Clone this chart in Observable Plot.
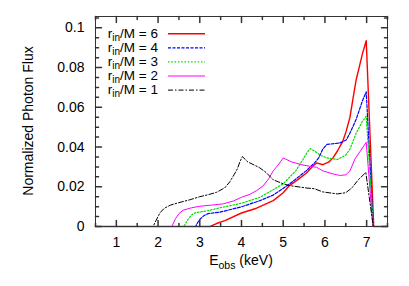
<!DOCTYPE html>
<html><head><meta charset="utf-8">
<script src="https://cdn.jsdelivr.net/npm/d3@7"></script>
<script src="https://cdn.jsdelivr.net/npm/@observablehq/plot@0.6"></script>
<style>body{margin:0;background:#fff}</style>
</head><body><div id="chart"></div>
<script>
// r_in/M values (legend order)
const radii = [6, 4, 3, 2, 1];

// Energy (keV) and normalized photon flux
const energy6 = [0.5, 3.25, 3.4, 3.6, 4.0, 4.36, 4.76, 5.0, 5.15, 5.35, 5.55, 5.72, 5.8, 5.95, 6.1, 6.2, 6.3, 6.43, 6.51, 6.6, 6.67, 6.75, 6.82, 6.9, 6.99, 7.17, 7.5];
const flux6   = [0, 0, 0.0015, 0.003, 0.0068, 0.0092, 0.013, 0.017, 0.0206, 0.0236, 0.0268, 0.0306, 0.032, 0.0311, 0.0325, 0.0348, 0.038, 0.043, 0.048, 0.055, 0.064, 0.074, 0.080, 0.087, 0.0935, 0, 0];

const energy4 = [0.5, 2.9, 2.95, 3.0, 3.1, 3.2, 3.48, 4.0, 4.44, 4.76, 5.15, 5.55, 5.75, 5.85, 5.95, 6.05, 6.35, 6.51, 6.6, 6.75, 6.9, 6.99, 7.16, 7.5];
const flux4   = [0, 0, 0.002, 0.0035, 0.0055, 0.0065, 0.0072, 0.0099, 0.013, 0.0158, 0.0214, 0.028, 0.032, 0.0345, 0.039, 0.0413, 0.042, 0.0435, 0.047, 0.054, 0.0633, 0.0678, 0, 0];

const energy3 = [0.5, 2.62, 2.7, 2.8, 2.9, 3.0, 3.2, 3.5, 4.0, 4.44, 4.8, 5.0, 5.15, 5.3, 5.45, 5.58, 5.65, 5.75, 5.9, 6.05, 6.3, 6.5, 6.6, 6.75, 6.9, 6.99, 7.16, 7.5];
const flux3   = [0, 0, 0.003, 0.0058, 0.007, 0.0073, 0.008, 0.0095, 0.0117, 0.0147, 0.019, 0.0215, 0.0248, 0.028, 0.033, 0.0375, 0.0392, 0.038, 0.0358, 0.0345, 0.0337, 0.036, 0.039, 0.047, 0.053, 0.0555, 0, 0];

const energy2 = [0.5, 2.33, 2.42, 2.5, 2.6, 2.8, 3.0, 3.3, 3.56, 3.8, 4.0, 4.2, 4.36, 4.52, 4.65, 4.76, 4.88, 5.0, 5.2, 5.5, 5.8, 5.95, 6.19, 6.35, 6.5, 6.6, 6.72, 6.85, 6.99, 7.15, 7.5];
const flux2   = [0, 0, 0.004, 0.0065, 0.0082, 0.0094, 0.0102, 0.0108, 0.0114, 0.0128, 0.0147, 0.0162, 0.018, 0.0205, 0.024, 0.028, 0.031, 0.0345, 0.0325, 0.0308, 0.0298, 0.028, 0.0265, 0.0257, 0.026, 0.028, 0.034, 0.038, 0.0424, 0, 0];

const energy1 = [0.5, 1.88, 1.95, 2.05, 2.15, 2.3, 2.5, 2.77, 3.0, 3.2, 3.4, 3.6, 3.72, 3.82, 3.9, 3.97, 4.02, 4.15, 4.3, 4.44, 4.6, 4.76, 5.0, 5.15, 5.55, 5.75, 5.95, 6.3, 6.5, 6.65, 6.8, 6.98, 7.16, 7.5];
const flux1   = [0, 0, 0.003, 0.007, 0.0092, 0.0108, 0.012, 0.0135, 0.015, 0.016, 0.0172, 0.0195, 0.0225, 0.026, 0.029, 0.033, 0.0352, 0.0325, 0.031, 0.0295, 0.027, 0.0235, 0.0215, 0.0206, 0.0194, 0.019, 0.0174, 0.0164, 0.017, 0.0195, 0.0235, 0.0272, 0, 0];

const energies = [energy6, energy4, energy3, energy2, energy1];
const fluxes = [flux6, flux4, flux3, flux2, flux1];

// Ticks
const xMajor = [1, 2, 3, 4, 5, 6, 7];
const xMinor = [0.5, 1.5, 2.5, 3.5, 4.5, 5.5, 6.5, 7.5];
const yMajor = [0, 0.02, 0.04, 0.06, 0.08, 0.1];
const yMinor = [0.005, 0.01, 0.015, 0.025, 0.03, 0.035, 0.045, 0.05, 0.055, 0.065, 0.07, 0.075, 0.085, 0.09, 0.095, 0.105];

// Styles
const styles = [
  {stroke: "#ff0000", strokeWidth: 1.4, dash: null},
  {stroke: "#0000ff", strokeWidth: 1.2, dash: "3,1.5"},
  {stroke: "#00dd00", strokeWidth: 1.2, dash: "1.5,1.8"},
  {stroke: "#ff00ff", strokeWidth: 1.0, dash: null},
  {stroke: "#000000", strokeWidth: 1.0, dash: "5,2,1.5,2"}
];

const rows = radii.map((r, i) => energies[i].map((e, j) => ({r, energy: e, flux: fluxes[i][j]})));

const tickShape = {draw(ctx, l) { ctx.moveTo(0, 0); ctx.lineTo(0, -l); }};
function ticksFor(vals, len) {
  return [
    Plot.vector(vals, {x: d => d, frameAnchor: "bottom", rotate: 0, anchor: "start", length: len, shape: tickShape, stroke: "#333"}),
    Plot.vector(vals, {x: d => d, frameAnchor: "top", rotate: 180, anchor: "start", length: len, shape: tickShape, stroke: "#333"})
  ];
}
function yTicksFor(vals, len) {
  return [
    Plot.vector(vals, {y: d => d, frameAnchor: "left", rotate: 90, anchor: "start", length: len, shape: tickShape, stroke: "#333"}),
    Plot.vector(vals, {y: d => d, frameAnchor: "right", rotate: -90, anchor: "start", length: len, shape: tickShape, stroke: "#333"})
  ];
}

const plot = Plot.plot({
  width: 409,
  height: 286,
  marginLeft: 95,
  marginRight: 22,
  marginTop: 16,
  marginBottom: 60,
  style: {fontFamily: "'Liberation Sans', Arial, sans-serif", fontSize: "14px", color: "#000", background: "#fff"},
  x: {domain: [0.5, 7.5]},
  y: {domain: [0, 0.1057]},
  marks: [
    ...rows.map((data, i) => Plot.line(data, {x: "energy", y: "flux", stroke: styles[i].stroke, strokeWidth: styles[i].strokeWidth, strokeDasharray: styles[i].dash})),
    Plot.frame({stroke: "#333"}),
    ...ticksFor(xMajor, 6), ...ticksFor(xMinor, 3),
    ...yTicksFor(yMajor, 6), ...yTicksFor(yMinor, 3),
    Plot.axisX({ticks: xMajor, tickSize: 0, tickPadding: 11, label: null, fontSize: 14, tickFormat: d => String(d)}),
    Plot.axisY({ticks: yMajor, tickSize: 0, tickPadding: 11, label: null, fontSize: 14, tickFormat: d => String(+d.toFixed(2))})
  ]
});
document.getElementById("chart").appendChild(plot);

const svg = d3.select(plot);
const ff = "'Liberation Sans', Arial, sans-serif";
// Y axis label
svg.append("text").attr("transform", "translate(29,121) rotate(-90)")
  .attr("text-anchor", "middle").attr("dominant-baseline", "middle")
  .attr("font-family", ff).attr("font-size", 14).attr("fill", "#000")
  .text("Normalized Photon Flux");
// X axis label with subscript
const xl = svg.append("text").attr("x", 241).attr("y", 265).attr("text-anchor", "middle")
  .attr("font-family", ff).attr("font-size", 14).attr("fill", "#000");
xl.append("tspan").text("E");
xl.append("tspan").attr("dy", 4).attr("font-size", 10.5).text("obs");
xl.append("tspan").attr("dy", -4).text(" (keV)");

// Legend
const lg = svg.append("g");
radii.forEach((r, i) => {
  const cy = 33.7 + i * 14.1;
  const t = lg.append("text").attr("x", 158).attr("y", cy + 4.3).attr("text-anchor", "end")
    .attr("font-family", ff).attr("font-size", 13.5).attr("fill", "#000");
  t.append("tspan").text("r");
  t.append("tspan").attr("dy", 3).attr("font-size", 10).text("in");
  t.append("tspan").attr("dy", -3).text("/M = " + r);
  lg.append("line").attr("x1", 168).attr("x2", 205).attr("y1", cy).attr("y2", cy)
    .attr("stroke", styles[i].stroke).attr("stroke-width", styles[i].strokeWidth)
    .attr("stroke-dasharray", styles[i].dash);
});
</script>
</body></html>
